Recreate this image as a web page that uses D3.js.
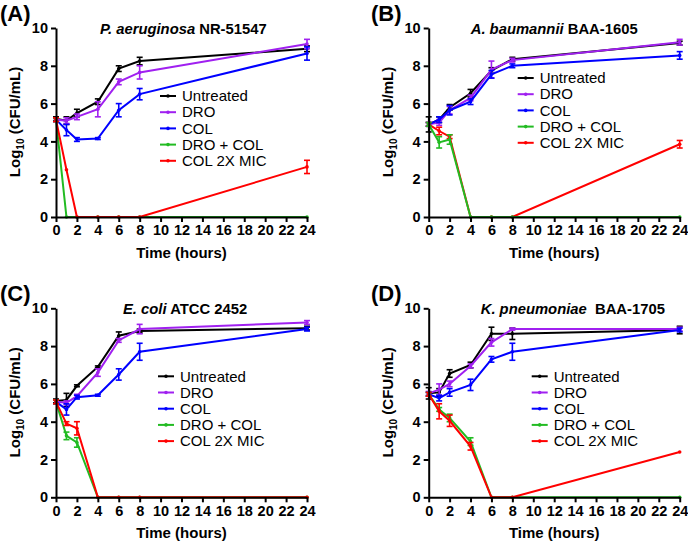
<!DOCTYPE html>
<html>
<head>
<meta charset="utf-8">
<script src="https://cdnjs.cloudflare.com/ajax/libs/d3/7.8.5/d3.min.js"></script>
<style>
  body { margin: 0; background: #fff; }
  svg { font-family: Arial, "Liberation Sans", sans-serif; }
</style>
</head>
<body>
<div id="chart"></div>
<script>
// sampling times (hours)
var times = [0, 1, 2, 4, 6, 8, 24];
var seriesNames = ['Untreated', 'DRO', 'COL', 'DRO + COL', 'COL 2X MIC'];
var seriesColors = ['#000000', '#a020f0', '#0000ff', '#22bb22', '#ff0000'];
var xTicks = [0, 2, 4, 6, 8, 10, 12, 14, 16, 18, 20, 22, 24];
var yTicks = [0, 2, 4, 6, 8, 10];

// panel A - P. aeruginosa NR-51547
var meansA = [
    [5.2, 5.1, 5.5, 6.1, 7.85, 8.25, 8.9],
    [5.15, 5.1, 5.3, 5.7, 7.15, 7.65, 9.15],
    [5.15, 4.6, 4.1, 4.15, 5.65, 6.5, 8.65],
    [5.15, 0, 0, 0, 0, 0, 0],
    [5.15, 2.5, 0, 0, 0, 0, 2.65]
];
var errA = [
    [0.1, 0.2, 0.2, 0.15, 0.15, 0.2, 0.15],
    [0.1, 0.15, 0.15, 0.4, 0.15, 0.35, 0.25],
    [0.1, 0.3, 0.1, 0.05, 0.35, 0.3, 0.35],
    [0.1, 0, 0, 0, 0, 0, 0],
    [0.1, 0, 0, 0, 0, 0, 0.35]
];
// panel B - A. baumannii BAA-1605
var meansB = [
    [4.9, 5.15, 5.8, 6.55, 7.75, 8.35, 9.2],
    [4.9, 5.0, 5.65, 6.3, 7.8, 8.3, 9.25],
    [4.9, 5.15, 5.65, 6.1, 7.55, 8.0, 8.55],
    [4.9, 3.95, 4.1, 0, 0, 0, 0],
    [4.9, 4.55, 4.25, 0, 0, 0, 3.85]
];
var errB = [
    [0.4, 0.15, 0.15, 0.2, 0.15, 0.1, 0.1],
    [0.1, 0.15, 0.2, 0.15, 0.45, 0.1, 0.15],
    [0.1, 0.15, 0.25, 0.15, 0.2, 0.1, 0.2],
    [0.1, 0.3, 0.25, 0, 0, 0, 0],
    [0.1, 0.2, 0.1, 0, 0, 0, 0.2]
];
// panel C - E. coli ATCC 2452
var meansC = [
    [5.1, 5.15, 5.9, 6.9, 8.55, 8.8, 8.95],
    [5.05, 5.0, 5.35, 6.6, 8.3, 8.9, 9.25],
    [5.05, 4.65, 5.3, 5.4, 6.5, 7.7, 8.9],
    [5.05, 3.25, 2.9, 0, 0, 0, 0],
    [5.05, 3.9, 3.65, 0, 0, 0, 0]
];
var errC = [
    [0.1, 0.35, 0.05, 0.05, 0.2, 0.1, 0.1],
    [0.1, 0.1, 0.1, 0.2, 0.1, 0.25, 0.1],
    [0.1, 0.3, 0.1, 0.05, 0.3, 0.45, 0.1],
    [0.1, 0.2, 0.25, 0, 0, 0, 0],
    [0.1, 0.1, 0.35, 0, 0, 0, 0]
];
// panel D - K. pneumoniae BAA-1705
var meansD = [
    [5.5, 5.55, 6.55, 7.0, 8.65, 8.65, 8.85],
    [5.5, 5.7, 6.0, 6.95, 8.2, 8.9, 8.9],
    [5.45, 5.25, 5.55, 5.95, 7.3, 7.7, 8.85],
    [5.45, 4.65, 4.2, 2.95, 0, 0, 0],
    [5.45, 4.55, 4.05, 2.7, 0, 0, 2.4]
];
var errD = [
    [0.3, 0.2, 0.2, 0.15, 0.35, 0.3, 0.2],
    [0.1, 0.3, 0.15, 0.1, 0.2, 0.05, 0.1],
    [0.1, 0.15, 0.2, 0.3, 0.15, 0.45, 0.1],
    [0.1, 0.1, 0.2, 0.2, 0, 0, 0],
    [0.1, 0.4, 0.3, 0.2, 0, 0, 0]
];

var panels = [
    { label: '(A)', species: 'P. aeruginosa', strain: ' NR-51547', means: meansA, err: errA,
      ox: 0, oy: 0, titleX: 44, legX: 104, legY: 96, order: [0, 1, 2, 3, 4] },
    { label: '(B)', species: 'A. baumannii', strain: ' BAA-1605', means: meansB, err: errB,
      ox: 372.7, oy: 0, titleX: 42, legX: 89, legY: 78, order: [0, 1, 2, 4, 3] },
    { label: '(C)', species: 'E. coli', strain: ' ATCC 2452', means: meansC, err: errC,
      ox: 0, oy: 280.3, titleX: 67, legX: 102, legY: 96, order: [0, 1, 2, 3, 4] },
    { label: '(D)', species: 'K. pneumoniae', strain: '  BAA-1705', means: meansD, err: errD,
      ox: 372.7, oy: 280.3, titleX: 52, legX: 103, legY: 96, order: [0, 1, 2, 3, 4] }
];

var W = 688, H = 542;
var svg = d3.select('#chart').append('svg').attr('width', W).attr('height', H);

var x = d3.scaleLinear().domain([0, 24]).range([0, 251]);
var y = d3.scaleLinear().domain([0, 10]).range([189, 0]);
var marginLeft = 56, marginTop = 28;

panels.forEach(function(p) {
    var g = svg.append('g').attr('transform', 'translate(' + (p.ox + marginLeft) + ',' + (p.oy + marginTop) + ')');

    // panel letter
    svg.append('text')
        .attr('x', p.ox + (p.ox > 0 ? -1.7 : 0))
        .attr('y', p.oy + 21)
        .attr('font-size', 22).attr('font-weight', 'bold')
        .text(p.label);

    // series
    p.order.forEach(function(si) {
        var pts = times.map(function(t, i) { return { t: t, v: p.means[si][i], e: p.err[si][i] }; });
        var line = d3.line().x(function(d) { return x(d.t); }).y(function(d) { return y(d.v); });
        g.append('path').datum(pts)
            .attr('d', line)
            .attr('fill', 'none')
            .attr('stroke', seriesColors[si])
            .attr('stroke-width', 2);
        var eb = g.append('g').attr('stroke', seriesColors[si]).attr('stroke-width', 1.6);
        pts.filter(function(d) { return d.e > 0; }).forEach(function(d) {
            var cx = x(d.t);
            eb.append('line').attr('x1', cx).attr('x2', cx).attr('y1', y(d.v - d.e)).attr('y2', y(d.v + d.e));
            eb.append('line').attr('x1', cx - 3).attr('x2', cx + 3).attr('y1', y(d.v - d.e)).attr('y2', y(d.v - d.e));
            eb.append('line').attr('x1', cx - 3).attr('x2', cx + 3).attr('y1', y(d.v + d.e)).attr('y2', y(d.v + d.e));
        });
        g.append('g').selectAll('circle').data(pts).enter().append('circle')
            .attr('cx', function(d) { return x(d.t); })
            .attr('cy', function(d) { return y(d.v); })
            .attr('r', 1.8)
            .attr('fill', seriesColors[si]);
    });

    // axes
    var xAxis = g.append('g').attr('transform', 'translate(0,189)')
        .call(d3.axisBottom(x).tickValues(xTicks).tickSize(5).tickPadding(3).tickSizeOuter(0));
    var yAxis = g.append('g')
        .call(d3.axisLeft(y).tickValues(yTicks).tickSize(5).tickPadding(3).tickSizeOuter(0));
    [xAxis, yAxis].forEach(function(a) {
        a.select('.domain').attr('stroke-width', 2).attr('stroke', '#000');
        a.selectAll('.tick line').attr('stroke-width', 2).attr('stroke', '#000');
        a.selectAll('.tick text').attr('font-size', 14.5).attr('font-weight', 'bold')
            .attr('font-family', 'Arial, "Liberation Sans", sans-serif').attr('fill', '#000');
    });

    // title
    var tt = g.append('text').attr('x', p.titleX).attr('y', 6)
        .attr('font-size', 14.8).attr('font-weight', 'bold').attr('xml:space', 'preserve');
    tt.append('tspan').attr('font-style', 'italic').text(p.species);
    tt.append('tspan').text(p.strain);

    // axis titles
    g.append('text').attr('x', 125.5).attr('y', 230)
        .attr('text-anchor', 'middle').attr('font-size', 15).attr('font-weight', 'bold')
        .text('Time (hours)');
    var yt = g.append('text')
        .attr('transform', 'translate(-36,94) rotate(-90)')
        .attr('text-anchor', 'middle').attr('font-size', 15).attr('font-weight', 'bold');
    yt.append('tspan').text('Log');
    yt.append('tspan').attr('font-size', 10).attr('dy', 4).text('10');
    yt.append('tspan').attr('dy', -4).text(' (CFU/mL)');

    // legend
    var leg = g.append('g').attr('transform', 'translate(' + p.legX + ',' + (p.legY - marginTop) + ')');
    seriesNames.forEach(function(name, i) {
        var row = leg.append('g').attr('transform', 'translate(0,' + (i * 16.2) + ')');
        row.append('line').attr('x1', 0).attr('x2', 16).attr('y1', 0).attr('y2', 0)
            .attr('stroke', seriesColors[i]).attr('stroke-width', 2);
        row.append('circle').attr('cx', 8).attr('cy', 0).attr('r', 1.8).attr('fill', seriesColors[i]);
        row.append('text').attr('x', 22).attr('y', 0).attr('dy', '0.35em')
            .attr('font-size', 15).text(name);
    });
});
</script>
</body>
</html>
